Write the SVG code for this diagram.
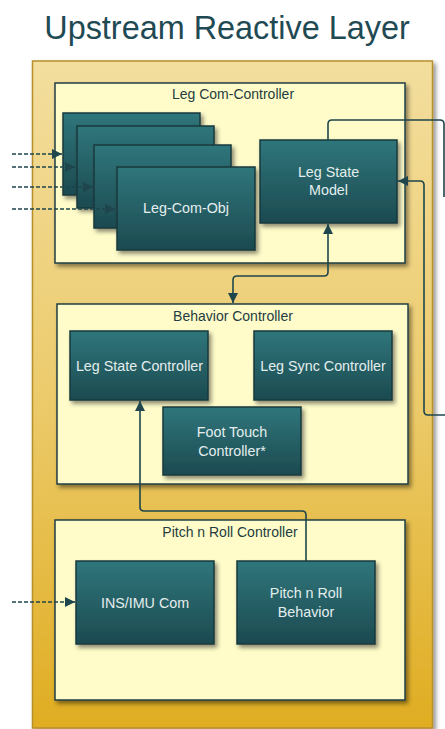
<svg xmlns="http://www.w3.org/2000/svg" width="445" height="729" viewBox="0 0 445 729">
  <defs>
    <linearGradient id="gOuter" x1="0" y1="0" x2="0" y2="1">
      <stop offset="0" stop-color="#f3de9e"/>
      <stop offset="0.5" stop-color="#eccb6c"/>
      <stop offset="1" stop-color="#e0ad22"/>
    </linearGradient>
    <linearGradient id="gTeal" x1="0" y1="0" x2="0" y2="1">
      <stop offset="0" stop-color="#2f767b"/>
      <stop offset="1" stop-color="#1c4a50"/>
    </linearGradient>
    <filter id="shadow" x="-10%" y="-10%" width="125%" height="130%">
      <feDropShadow dx="2.5" dy="3" stdDeviation="2" flood-color="#000" flood-opacity="0.45"/>
    </filter>
    <marker id="arrow" viewBox="0 0 10 10" refX="10" refY="5" markerWidth="10" markerHeight="10" markerUnits="userSpaceOnUse" orient="auto-start-reverse">
      <path d="M0,0 L10,5 L0,10 Z" fill="#1e464c"/>
    </marker>
  </defs>
  <style>
    .title { font-family: "Liberation Sans", Arial, sans-serif; font-size: 32.4px; fill: #1f4a54; }
    .outer { fill: url(#gOuter); stroke: #b8902c; stroke-width: 1.5; filter: url(#shadow); }
    .panel { fill: #fffcca; stroke: #1f3f44; stroke-width: 1.5; filter: url(#shadow); }
    .panel-label { font-family: "Liberation Sans", Arial, sans-serif; font-size: 14px; fill: #243c40; text-anchor: middle; }
    .box { fill: url(#gTeal); stroke: #17383c; stroke-width: 1.5; filter: url(#shadow); }
    .box-label { font-family: "Liberation Sans", Arial, sans-serif; font-size: 14.3px; fill: #e4eeee; text-anchor: middle; }
    .link { fill: none; stroke: #1e464c; stroke-width: 1.6; stroke-linejoin: round; }
    .dashed { stroke-dasharray: 4 2; }
  </style>

  <text class="title" x="227" y="39" text-anchor="middle">Upstream Reactive Layer</text>

  <g id="upstream-reactive-layer">
    <rect class="outer" x="32.5" y="61" width="400" height="667"/>
  </g>

  <g id="leg-com-controller">
    <rect class="panel" x="55" y="83" width="350" height="180"/>
    <text class="panel-label" x="233" y="99">Leg Com-Controller</text>
  </g>

  <g id="leg-com-obj-1">
    <rect class="box" x="63" y="113" width="137" height="82"/>
  </g>
  <g id="leg-com-obj-2">
    <rect class="box" x="77" y="126" width="137" height="82"/>
  </g>
  <g id="leg-com-obj-3">
    <rect class="box" x="94" y="145" width="137" height="83"/>
  </g>
  <g id="leg-com-obj-4">
    <rect class="box" x="117" y="167" width="138" height="83"/>
    <text class="box-label" x="186" y="213">Leg-Com-Obj</text>
  </g>

  <g id="leg-state-model">
    <rect class="box" x="260" y="140" width="137" height="83"/>
    <text class="box-label" x="328.5" y="177">Leg State</text>
    <text class="box-label" x="328.5" y="195">Model</text>
  </g>

  <g id="behavior-controller">
    <rect class="panel" x="57" y="304" width="351" height="180"/>
    <text class="panel-label" x="233" y="321">Behavior Controller</text>
  </g>
  <g id="leg-state-controller">
    <rect class="box" x="70" y="331" width="138" height="69"/>
    <text class="box-label" x="139.5" y="371">Leg State Controller</text>
  </g>
  <g id="leg-sync-controller">
    <rect class="box" x="254" y="331" width="138" height="69"/>
    <text class="box-label" x="323" y="371">Leg Sync Controller</text>
  </g>
  <g id="foot-touch-controller">
    <rect class="box" x="163" y="407" width="138" height="68"/>
    <text class="box-label" x="232" y="437">Foot Touch</text>
    <text class="box-label" x="232" y="456">Controller*</text>
  </g>

  <g id="pitch-n-roll-controller">
    <rect class="panel" x="55" y="520" width="350" height="180"/>
    <text class="panel-label" x="230" y="537">Pitch n Roll Controller</text>
  </g>
  <g id="ins-imu-com">
    <rect class="box" x="76" y="561" width="138" height="83"/>
    <text class="box-label" x="145" y="608">INS/IMU Com</text>
  </g>
  <g id="pitch-n-roll-behavior">
    <rect class="box" x="237" y="561" width="138" height="83"/>
    <text class="box-label" x="306" y="598">Pitch n Roll</text>
    <text class="box-label" x="306" y="617">Behavior</text>
  </g>

  <g id="connectors">
    <!-- external inputs into the leg communication objects -->
    <path class="link dashed" d="M12,154 H62" marker-end="url(#arrow)"/>
    <path class="link dashed" d="M12,167 H75" marker-end="url(#arrow)"/>
    <path class="link dashed" d="M12,187 H93" marker-end="url(#arrow)"/>
    <path class="link dashed" d="M12,209 H115" marker-end="url(#arrow)"/>
    <!-- external input into the INS/IMU interface -->
    <path class="link dashed" d="M12,602 H75" marker-end="url(#arrow)"/>

    <!-- leg state model out to the right -->
    <path class="link" d="M328,140 V124 Q328,120 332,120 H440 Q444,120 444,124 V197"/>
    <!-- feedback from the right into leg state model -->
    <path class="link" d="M445,415 H428 Q424,415 424,411 V185 Q424,181 420,181 H398" marker-end="url(#arrow)"/>
    <!-- leg state model to behavior controller, both ways -->
    <path class="link" d="M328,224 V272 Q328,276 324,276 H237 Q233,276 233,280 V303" marker-start="url(#arrow)" marker-end="url(#arrow)"/>
    <!-- pitch n roll behavior to leg state controller -->
    <path class="link" d="M306,561 V515 Q306,511 302,511 H144 Q140,511 140,507 V401" marker-end="url(#arrow)"/>
  </g>
</svg>
